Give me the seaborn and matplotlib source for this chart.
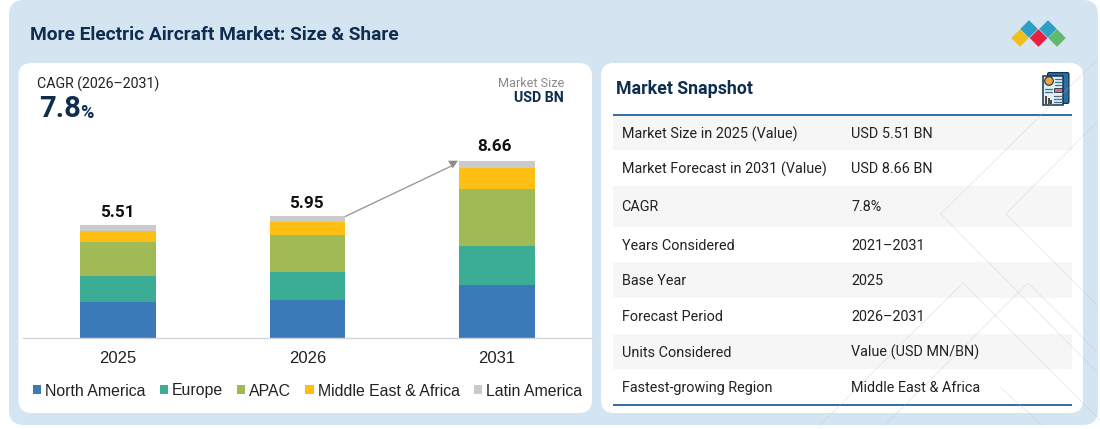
import matplotlib
matplotlib.use("Agg")
import matplotlib.pyplot as plt
from matplotlib.patches import FancyBboxPatch, Rectangle, Polygon, Wedge
import pandas as pd
import seaborn as sns

# ---- data ----
years = ["2025", "2026", "2031"]
totals = [5.51, 5.95, 8.66]
north_america = [1.76, 1.87, 2.61]
europe = [1.29, 1.37, 1.91]
apac = [1.65, 1.80, 2.77]
middle_east_africa = [0.55, 0.64, 1.01]
latin_america = [0.26, 0.27, 0.36]
regions = ["North America", "Europe", "APAC", "Middle East & Africa", "Latin America"]
region_colors = ["#3A7AB8", "#3AAD94", "#A0BA55", "#FDBF12", "#CBCBCB"]
snapshot_labels = ["Market Size in 2025 (Value)", "Market Forecast in 2031 (Value)", "CAGR",
                   "Years Considered", "Base Year", "Forecast Period", "Units Considered",
                   "Fastest-growing Region"]
snapshot_values = ["USD 5.51 BN", "USD 8.66 BN", "7.8%", "2021–2031", "2025", "2026–2031",
                   "Value (USD MN/BN)", "Middle East & Africa"]

NAVY = "#0F2D4E"
BG = "#D5E4F1"
ROBOTO = "Roboto"
ARIAL = "Liberation Sans"

sns.set_theme(style="white")
W, H = 1100, 429
fig = plt.figure(figsize=(W / 100, H / 100), dpi=100, facecolor="white")

# pixel-space canvas
bg = fig.add_axes([0, 0, 1, 1], zorder=0)
bg.set_xlim(0, W)
bg.set_ylim(H, 0)
bg.axis("off")


def panel(x0, y0, x1, y1, r, color):
    bg.add_patch(FancyBboxPatch((x0 + r, y0 + r), x1 - x0 - 2 * r, y1 - y0 - 2 * r,
                                boxstyle=f"round,pad={r},rounding_size={r}",
                                fc=color, ec="none"))


panel(9, 0, 1098, 425, 15, BG)
panel(18.5, 63, 592, 413, 13, "white")
panel(601, 63, 1083, 413, 13, "white")

bg.text(30, 34.5, "More Electric Aircraft Market: Size & Share", family=ROBOTO, weight="bold",
        fontsize=13.75, color=NAVY, va="center", ha="left")

# logo
for cx, cy, c in [(1029, 29, "#2E9FC4"), (1048, 29, "#2E9FC4"), (1020, 38, "#F0BE1E"),
                  (1038.5, 38, "#E8203F"), (1057, 38, "#63B96B")]:
    d = 8.8
    bg.add_patch(Polygon([(cx - d, cy), (cx, cy - d), (cx + d, cy), (cx, cy + d)], fc=c, ec="none"))

# left panel texts
bg.text(37, 84, "CAGR (2026–2031)", family=ROBOTO, fontsize=10.2, color="#222222", va="center")
bg.text(39, 109, "7.8", family=ROBOTO, weight="bold", fontsize=21, color=NAVY, va="center")
bg.text(80.5, 113, "%", family=ROBOTO, weight="bold", fontsize=13, color=NAVY, va="center")
bg.text(564, 83.5, "Market Size", family=ROBOTO, fontsize=9.05, color="#8A8A8A", va="center", ha="right")
bg.text(564, 98.5, "USD BN", family=ROBOTO, weight="bold", fontsize=10.2, color=NAVY, va="center", ha="right")

# snapshot table
bg.text(616.5, 89.5, "Market Snapshot", family=ROBOTO, weight="bold", fontsize=12.8, color=NAVY, va="center")
row_edges = [115, 150, 186, 226.7, 262, 297.7, 333.7, 369, 404.5]
row_centers = [133, 168, 206, 244.5, 280, 316, 351.5, 387]
for i, (lab, val) in enumerate(zip(snapshot_labels, snapshot_values)):
    if i % 2 == 0:
        bg.add_patch(Rectangle((613, row_edges[i]), 459, row_edges[i + 1] - row_edges[i],
                               fc="#F6F6F6", ec="none"))
    bg.text(621.5, row_centers[i] + 1.3, lab, family=ROBOTO, fontsize=10.35, color="#222222", va="center")
    bg.text(851.3, row_centers[i] + 1.3, val, family=ROBOTO, fontsize=10.35, color="#222222", va="center")
bg.plot([613, 1072], [115, 115], color="#2F6EA8", lw=1.4, solid_capstyle="butt")
bg.plot([613, 1072], [404.7, 404.7], color="#2F6EA8", lw=1.4, solid_capstyle="butt")

# report icon
bg.add_patch(FancyBboxPatch((1048, 73), 20.5, 30, boxstyle="round,pad=0.4,rounding_size=1.5",
                            fc="#2A6FA0", ec="#16324F", lw=0.9))
bg.add_patch(Rectangle((1043, 75.5), 20, 29.5, fc="#DDF1F8", ec="#16324F", lw=1.1))
bg.add_patch(Wedge((1049, 81), 4.3, 0, 360, fc="#F2A33A", ec="#16324F", lw=0.8))
bg.add_patch(Rectangle((1054, 87.7), 7.7, 4.6, fc="#E56A6A", ec="#16324F", lw=0.6))
for bx, by in [(1045, 96), (1047.5, 98), (1050, 99.8)]:
    bg.add_patch(Rectangle((bx, by), 2, 103.5 - by, fc="#5A4A3A", ec="none"))
for y in (78.5, 81.5, 84.5):
    bg.plot([1055, 1062], [y, y], color="#4A6A80", lw=0.9)
for y in (88.5, 91.5):
    bg.plot([1045, 1052], [y, y], color="#4A6A80", lw=0.9)
for y in (96, 99, 102):
    bg.plot([1054, 1062], [y, y], color="#4A6A80", lw=0.9)

# stacked bars
series = [north_america, europe, apac, middle_east_africa, latin_america]
df = pd.DataFrame([
    {"pos": i, "region": r, "value": s[i]}
    for r, s in zip(regions, series) for i in range(len(years))
])
left, right = 23.25, 591.75
top, base = 133.6, 338
ax = fig.add_axes([left / W, 1 - base / H, (right - left) / W, (base - top) / H], zorder=1)
ax.patch.set_alpha(0)
sns.histplot(df, x="pos", weights="value", hue="region", hue_order=regions[::-1],
             palette=dict(zip(regions, region_colors)), multiple="stack", discrete=True,
             shrink=0.4, alpha=1, linewidth=0, legend=False, ax=ax)
ax.set_xlim(-0.5, 2.5)
ax.set_ylim(0, 10)
ax.set_xlabel("")
ax.set_ylabel("")
ax.set_yticks([])
ax.set_xticks(range(len(years)), years, family=ARIAL, fontsize=12, color="#222222")
ax.tick_params(axis="x", length=0, pad=9.5)
for s in ("top", "left", "right"):
    ax.spines[s].set_visible(False)
ax.spines["bottom"].set_color("#D2D6DA")
ax.spines["bottom"].set_linewidth(1)
for i, (t, dx, dy) in enumerate(zip(totals, [-0.005, -0.005, -0.013], [0.64, 0.64, 0.72])):
    ax.text(i + dx, t + dy, f"{t:.2f}", family=ROBOTO, weight="bold", fontsize=12.3, color="#111111",
            ha="center", va="center")
ax.annotate("", xy=(1.77, totals[2] - 0.2), xytext=(1.2, totals[1]),
            arrowprops=dict(arrowstyle="-", color="#9A9A9A", lw=1, shrinkA=0, shrinkB=0))

handles = [Rectangle((0, 0), 1, 1, fc=c, ec="none") for c in region_colors]
ax.legend(handles, regions, ncol=5, loc="center left", bbox_to_anchor=(33 / W, 1 - 391 / H),
          bbox_transform=fig.transFigure, frameon=False, borderpad=0, borderaxespad=0,
          handlelength=0.52, handleheight=0.52, handletextpad=0.25, columnspacing=0.88,
          prop={"family": ARIAL, "size": 11.45}, labelcolor="#222222")

# arrow head and faint decorative lines
ov = fig.add_axes([0, 0, 1, 1], zorder=2)
ov.set_xlim(0, W)
ov.set_ylim(H, 0)
ov.axis("off")
ov.patch.set_alpha(0)
ov.add_patch(Polygon([(448, 160.7), (458, 160.7), (452.7, 168.3)], fc="#8C8C8C", ec="none"))
for xs, ys in [([1097, 940.7, 1097], [60, 214, 372]), ([1097, 1005.7, 1097], [122, 214, 305]),
               ([820, 963, 1105], [425, 282.7, 425]), ([885, 1028, 1097], [425, 283, 352]),
               ([1000, 1042], [387, 425])]:
    ov.plot(xs, ys, color="#B4C0CA", lw=0.6, alpha=0.35)

fig.savefig("out.png", dpi=100, facecolor="white")
